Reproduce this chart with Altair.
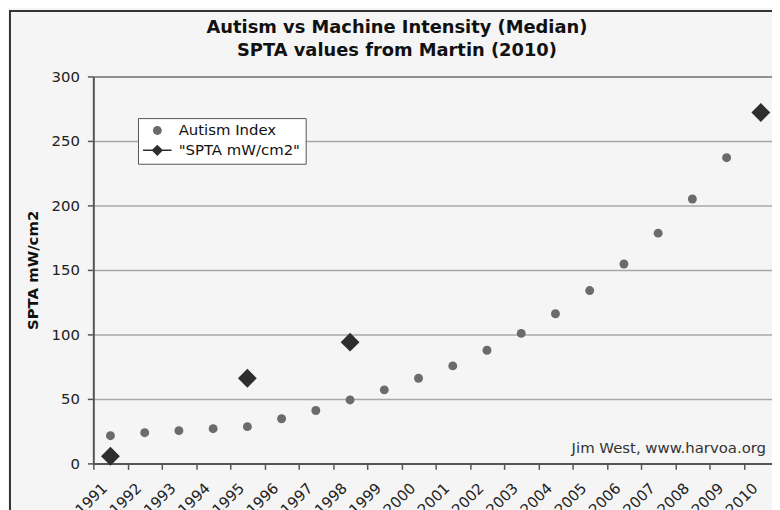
import altair as alt
import pandas as pd

# ---- data ----
autism_years = list(range(1991, 2010))
autism_values = [21.5, 23.8, 25.4, 26.9, 28.5, 34.6, 41, 49.2, 57, 66, 75.6,
                 87.7, 100.8, 116, 134, 154.6, 178.5, 205, 237]
spta_years = [1991, 1995, 1998, 2010]
spta_values = [5.5, 66, 94, 272]
axis_years = list(range(1991, 2011))
y_ticks = [0, 50, 100, 150, 200, 250, 300]
series_names = ["Autism Index", '"SPTA mW/cm2"']

rows = [{"year": y, "value": v, "series": series_names[0]} for y, v in zip(autism_years, autism_values)]
rows += [{"year": y, "value": v, "series": series_names[1]} for y, v in zip(spta_years, spta_values)]
df = pd.DataFrame(rows)

FONT = "DejaVu Sans"
col_autism = "#6b6b6b"
col_spta = "#2e2e2e"
# legend symbols: small dot, and line-through-diamond (Excel style)
legend_circle = "M0.78,0A0.78,0.78,0,1,1,-0.78,0A0.78,0.78,0,1,1,0.78,0Z"
legend_diamond = "M-2.5,-0.13H2.5V0.13H-2.5ZM-1,0L0,-1L1,0L0,1Z"

legend = alt.Legend(
    title=None, orient="none", legendX=45, legendY=42,
    padding=5, symbolOffset=7, labelOffset=14, rowPadding=4,
    labelFont=FONT, labelFontSize=15, labelColor="#111",
    symbolSize=132, symbolOpacity=1, symbolStrokeWidth=0,
    strokeColor="#555", fillColor="white",
)

x_enc = alt.X(
    "year:Q",
    scale=alt.Scale(domain=[1990.5, 2010.326], nice=False, zero=False),
    axis=alt.Axis(
        title=None,
        values=[y - 0.5 for y in axis_years],
        labelExpr="toString(datum.value + 0.5)",
        labelAngle=315, labelAlign="right", labelBaseline="middle",
        labelOffset=11, labelPadding=16, labelOverlap=False,
        labelFont=FONT, labelFontSize=15, labelColor="#222",
        tickSize=6, tickColor="#555", tickWidth=1.5,
        domainColor="#555", domainWidth=2, grid=False,
    ),
)
y_enc = alt.Y(
    "value:Q",
    scale=alt.Scale(domain=[0, 300], nice=False),
    axis=alt.Axis(
        title="SPTA mW/cm2", titleFont=FONT, titleFontSize=15, titleFontWeight="bold",
        titleColor="#111", titleX=-61, titleY=195, titleAngle=270,
        titleAlign="center", titleBaseline="middle",
        values=y_ticks, labelFont=FONT, labelFontSize=15, labelColor="#222",
        labelPadding=8, tickSize=6, tickColor="#555", tickWidth=1.5,
        domainColor="#555", domainWidth=2,
        grid=True, gridWidth=1.5,
        gridColor={"condition": {"test": "datum.value === 300", "value": "#707070"}, "value": "#a8a8a8"},
    ),
)

base = alt.Chart(df)

autism_pts = base.transform_filter(alt.datum.series == series_names[0]).mark_point(
    filled=True, shape="circle", size=81, color=col_autism, opacity=1
).encode(x=x_enc, y=y_enc)

spta_pts = base.transform_filter(alt.datum.series == series_names[1]).mark_point(
    filled=True, shape="diamond", size=361, color=col_spta, opacity=1
).encode(x=x_enc, y=y_enc)

# invisible layer that carries the legend
legend_layer = base.mark_point(filled=True, opacity=0, strokeWidth=0).encode(
    x=x_enc, y=y_enc,
    shape=alt.Shape("series:N", scale=alt.Scale(domain=series_names, range=[legend_circle, legend_diamond]), legend=legend),
    color=alt.Color("series:N", scale=alt.Scale(domain=series_names, range=[col_autism, col_spta]), legend=legend),
)

credit = alt.Chart(pd.DataFrame({"t": ["Jim West, www.harvoa.org"]})).mark_text(
    align="right", baseline="alphabetic", font=FONT, fontSize=15, color="#333"
).encode(x=alt.value(678), y=alt.value(380), text="t:N")

frame = alt.Chart(pd.DataFrame({"a": [0]})).mark_rect(
    fillOpacity=0, stroke="#333", strokeWidth=2
).encode(x=alt.value(-84), x2=alt.value(800), y=alt.value(-66), y2=alt.value(500))

chart = alt.layer(frame, autism_pts, spta_pts, legend_layer, credit).properties(
    width=684, height=390,
    autosize=alt.AutoSizeParams(type="none"),
    padding={"left": 86, "top": 67, "right": 0, "bottom": 45},
    background="#f5f5f5",
    title=alt.TitleParams(
        ["Autism vs Machine Intensity (Median)", "SPTA values from Martin (2010)"],
        font=FONT, fontSize=18, fontWeight="bold", color="#111",
        anchor="middle", dx=-36, lineHeight=23, offset=-50,
    ),
).configure_view(stroke=None)

chart.save("out.html", embed_options={"renderer": "svg", "actions": False})
